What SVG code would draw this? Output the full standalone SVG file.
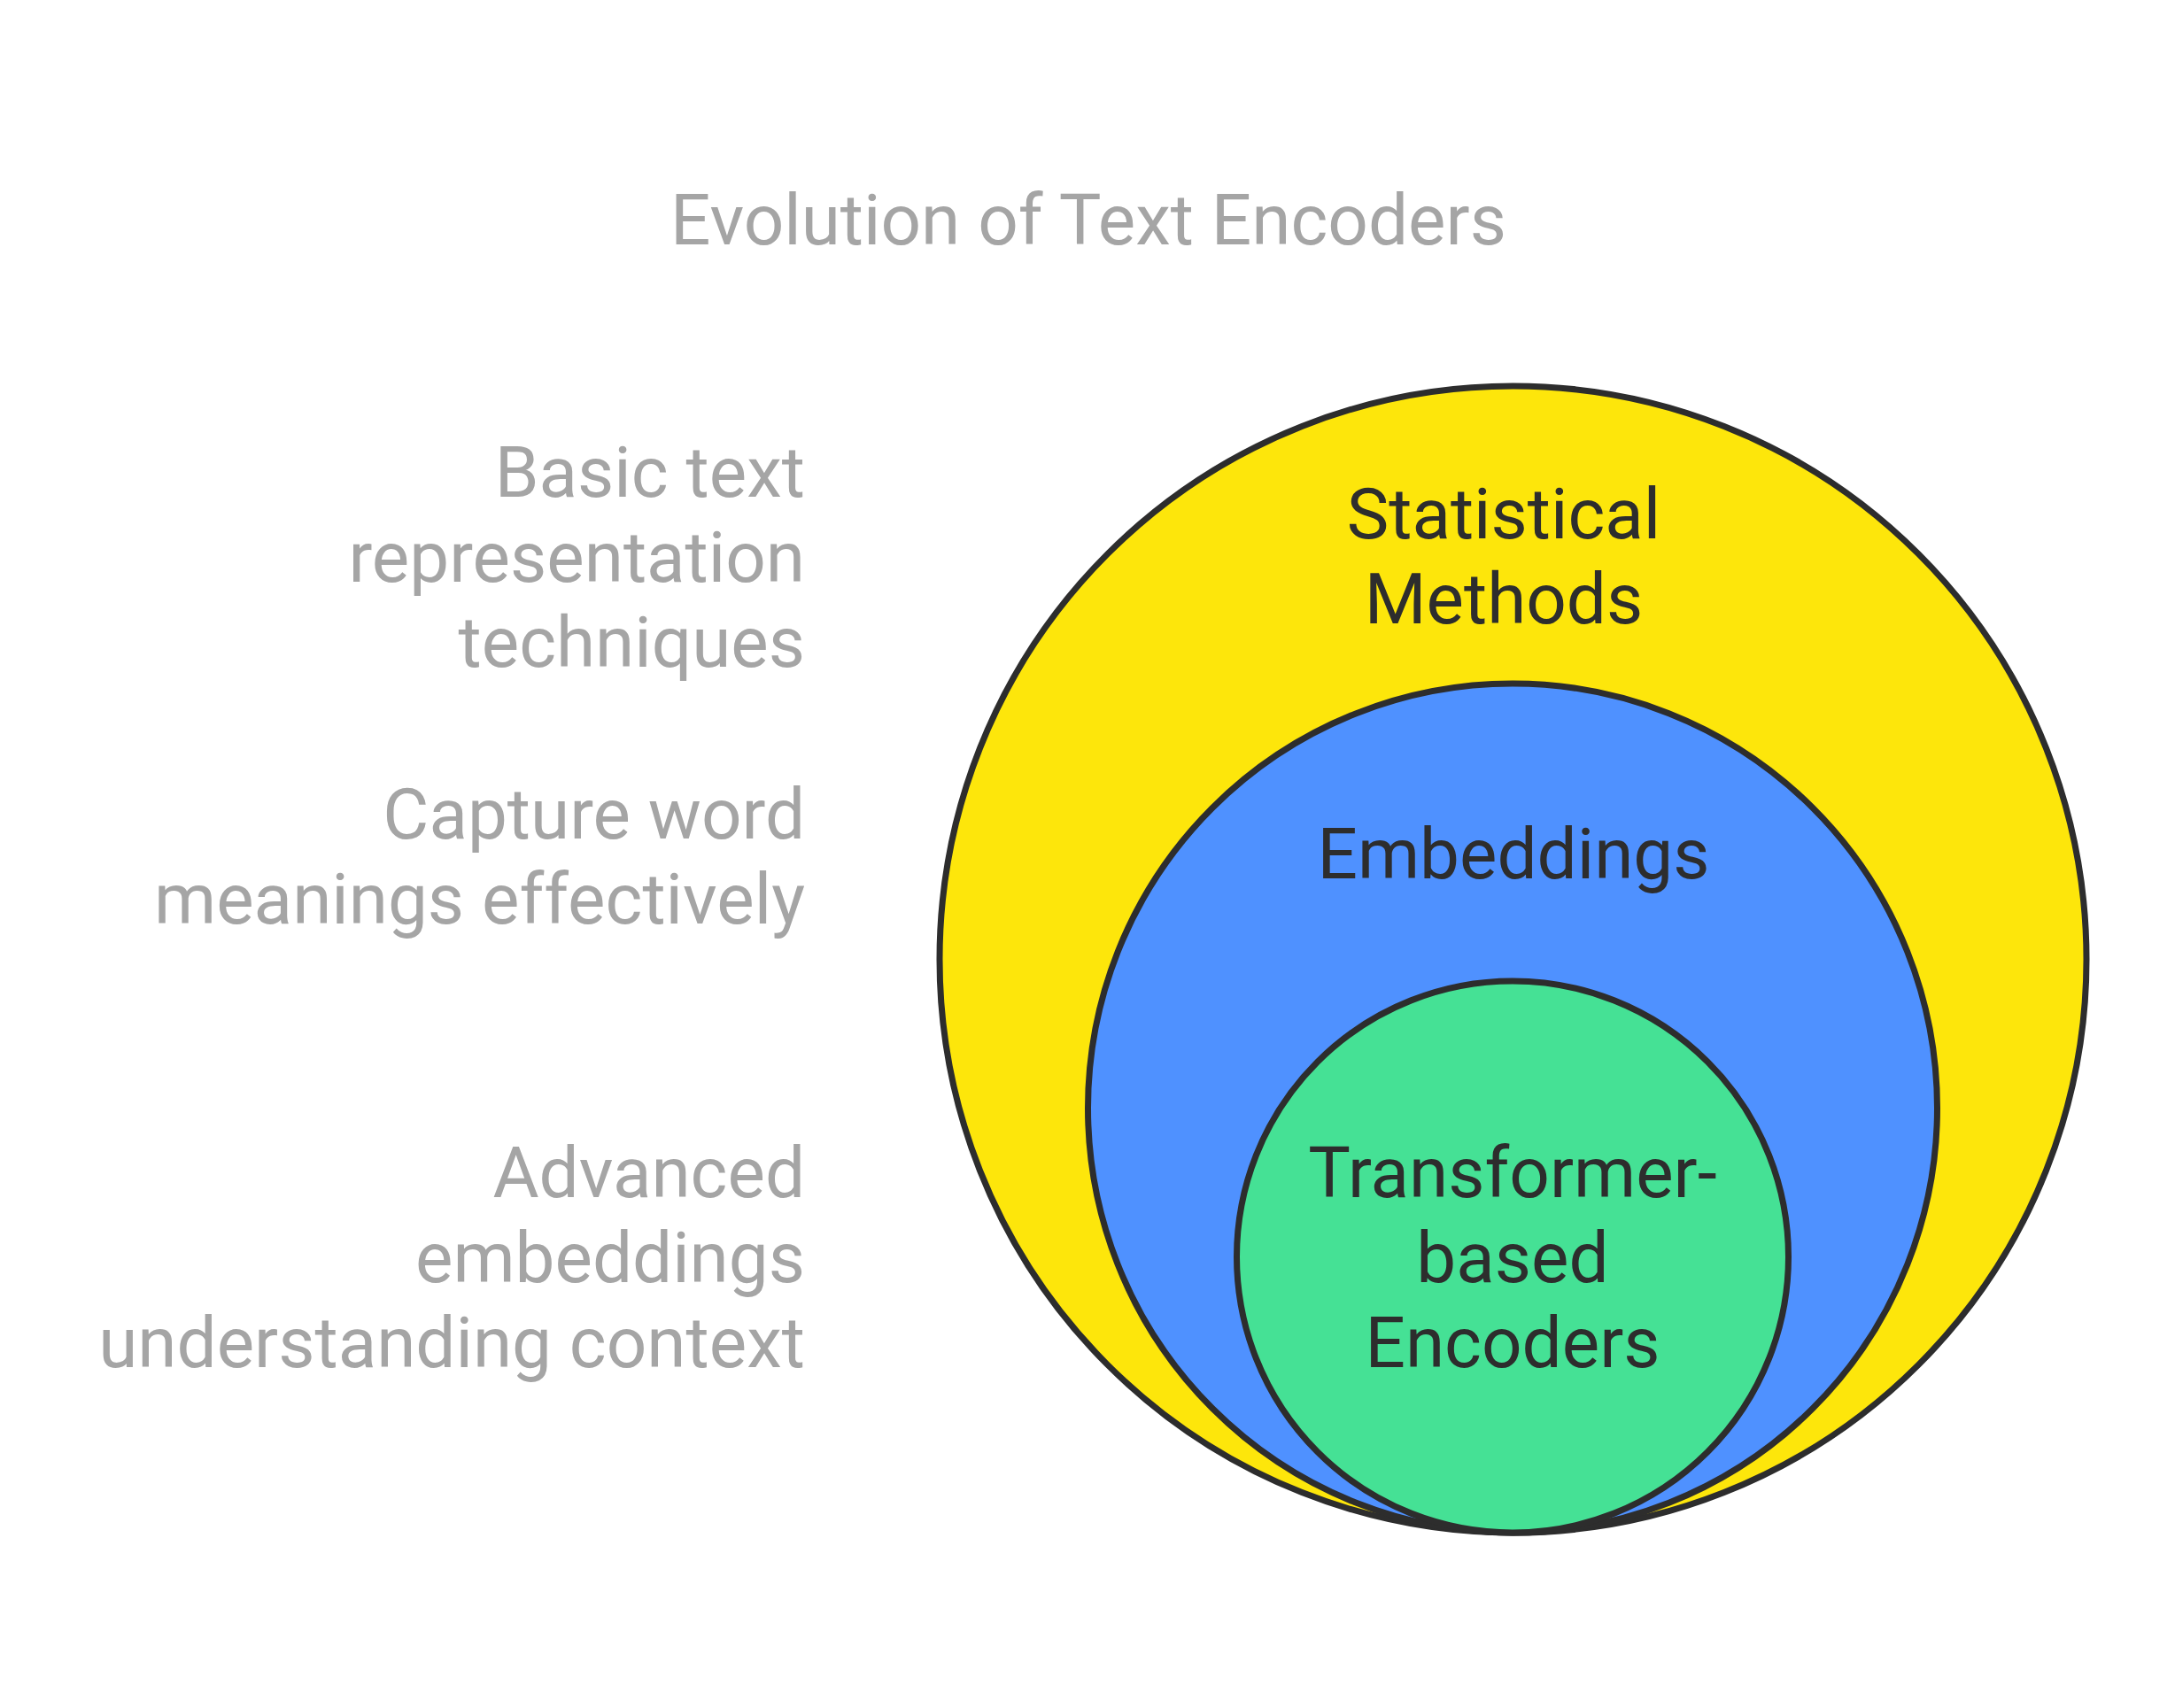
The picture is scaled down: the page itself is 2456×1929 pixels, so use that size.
<svg xmlns="http://www.w3.org/2000/svg" width="2456" height="1929" viewBox="0 0 2456 1929">
<style>
.c{stroke:#2d2d2d;stroke-width:7}
.lbl{font-family:Roboto,"Liberation Sans",sans-serif;font-size:80px;fill:#a5a5a5}
.side{text-anchor:end}
.node{font-family:Roboto,"Liberation Sans",sans-serif;font-size:80px;fill:#2d2d2d;text-anchor:middle}
</style>
<rect width="2456" height="1929" fill="#ffffff"/>
<text class="lbl" x="1229" y="276" text-anchor="middle">Evolution of Text Encoders</text>
<g id="desc-statistical">
<text class="lbl side" x="909" y="561">Basic text</text>
<text class="lbl side" x="909" y="657">representation</text>
<text class="lbl side" x="909" y="753">techniques</text>
</g>
<g id="desc-embeddings">
<text class="lbl side" x="909" y="947">Capture word</text>
<text class="lbl side" x="909" y="1043">meanings effectively</text>
</g>
<g id="desc-transformer">
<text class="lbl side" x="909" y="1352">Advanced</text>
<text class="lbl side" x="909" y="1448">embeddings</text>
<text class="lbl side" x="909" y="1544">understanding context</text>
</g>
<g id="statistical">
<circle class="c" cx="1708.5" cy="1083.5" r="647.5" fill="#fde60b"/>
<text class="node" x="1698" y="608">Statistical</text>
<text class="node" x="1698" y="704">Methods</text>
</g>
<g id="embeddings">
<circle class="c" cx="1708" cy="1251.5" r="479.5" fill="#4f91ff"/>
<text class="node" x="1709" y="992">Embeddings</text>
</g>
<g id="transformer">
<circle class="c" cx="1708" cy="1419.5" r="311.5" fill="#45e195"/>
<text class="node" x="1708" y="1352">Transformer-</text>
<text class="node" x="1708" y="1448">based</text>
<text class="node" x="1708" y="1544">Encoders</text>
</g>
<g id="connectors"/>
</svg>
